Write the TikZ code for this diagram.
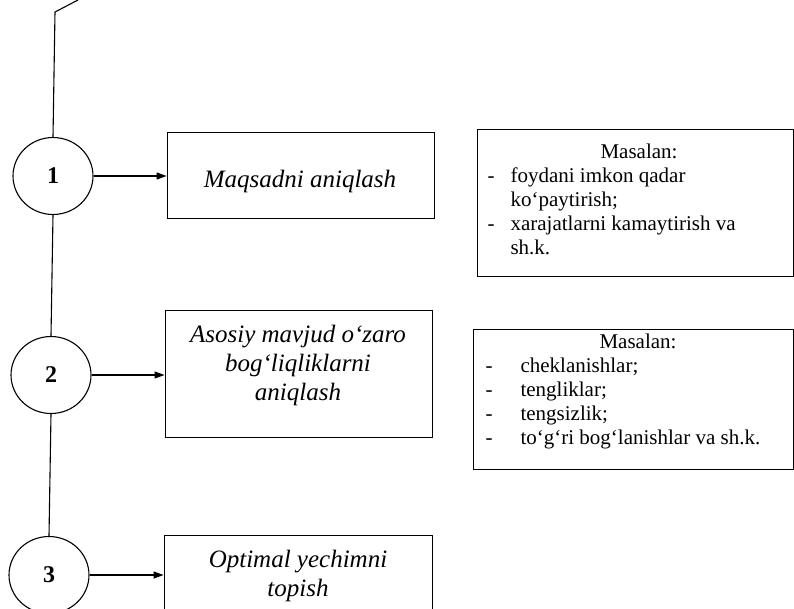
\documentclass[tikz,border=0pt]{standalone}
\usepackage{fontspec}
\setmainfont{Liberation Serif}
\usetikzlibrary{arrows.meta,shapes.geometric,calc}
\begin{document}
\begin{tikzpicture}[x=1pt,y=-1pt,
  line width=1.1pt,
  num/.style={ellipse, draw, minimum width=80pt, minimum height=77pt, inner sep=0pt, font=\fontsize{24}{28}\selectfont\bfseries},
  mainbox/.style={rectangle, draw, line width=0.9pt, inner sep=0pt},
  boxtext/.style={inner sep=0pt, align=center, font=\fontsize{25}{29}\selectfont\itshape},
  notebox/.style={rectangle, draw, line width=0.9pt, inner sep=0pt},
  notetext/.style={anchor=north west, inner sep=0pt, font=\fontsize{21}{24}\selectfont},
  arr/.style={-{Triangle[length=10pt,width=7pt]}}
]
\useasboundingbox (0,0) rectangle (794,608);
\clip (0,0) rectangle (794,608);

% circles
\node[num] (c1) at (53,176) {1};
\node[num] (c2) at (51,375) {2};
\node[num] (c3) at (49,575) {3};

% main boxes
\node[mainbox, minimum width=267pt, minimum height=86pt] (b1) at (300.5,175) {};
\node[boxtext] (b1t) at (300,181) {Maqsadni aniqlash};
\node[mainbox, minimum width=267pt, minimum height=127pt] (b2) at (298.5,373.5) {};
\node[boxtext] (b2t) at (298,365) {Asosiy mavjud o‘zaro\\ bog‘liqliklarni\\ aniqlash};
\node[mainbox, minimum width=268pt, minimum height=80pt] (b3) at (298,575) {};
\node[boxtext] (b3t) at (298,576) {Optimal yechimni\\ topish};

% note boxes
\node[notebox, minimum width=316pt, minimum height=147pt] (r1) at (635,202.5) {};
\node[notebox, minimum width=320pt, minimum height=140pt] (r2) at (633,399) {};

\node[notetext] (r1t) at (487,141) {\begin{tabular}{@{}p{23pt}@{}p{280pt}@{}}
\multicolumn{2}{@{}c@{}}{Masalan:}\\
-& foydani imkon qadar\newline ko‘paytirish;\\
-& xarajatlarni kamaytirish va\newline sh.k.
\end{tabular}};

\node[notetext] (r2t) at (485,331) {\begin{tabular}{@{}p{35pt}@{}p{270pt}@{}}
\multicolumn{2}{@{}c@{}}{Masalan:}\\
-& cheklanishlar;\\
-& tengliklar;\\
-& tengsizlik;\\
-& to‘g‘ri bog‘lanishlar va sh.k.
\end{tabular}};

% trunk
\coordinate (top) at (78,0);
\coordinate (bend) at (55,12);
\draw (top) -- (bend) -- (c1.north);
\draw (c1.south) -- (c2.north);
\draw (c2.south) -- (c3.north);

% arrows
\draw[arr] (c1.east) -- (c1.east -| b1.west);
\draw[arr] (c2.east) -- (c2.east -| b2.west);
\draw[arr] (c3.east) -- (c3.east -| b3.west);
\end{tikzpicture}
\end{document}
